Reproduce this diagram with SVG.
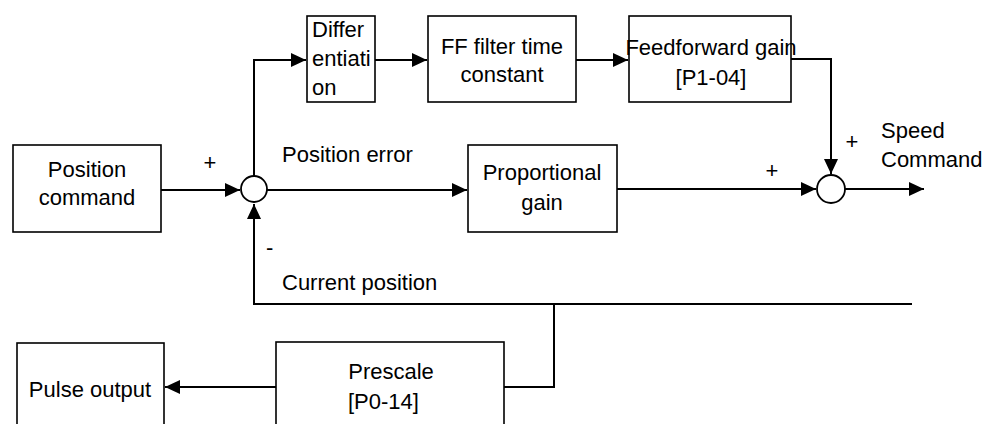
<svg xmlns="http://www.w3.org/2000/svg" width="986" height="424" viewBox="0 0 986 424">
<style>
.box{fill:#fff;stroke:#000;stroke-width:1.6}
.sum{fill:#fff;stroke:#000;stroke-width:1.8}
.ln{fill:none;stroke:#000;stroke-width:2}
text{font-family:"Liberation Sans",Arial,sans-serif;font-size:22px;fill:#000}
.c{text-anchor:middle}
</style>
<defs>
<marker id="ah" markerUnits="userSpaceOnUse" markerWidth="16" markerHeight="14" refX="15" refY="7" orient="auto">
<path d="M0,0 L15,7 L0,14 Z" fill="#000"/>
</marker>
</defs>
<rect width="986" height="424" fill="#fff"/>
<g id="connectors">
<path class="ln" d="M161,190 H240" marker-end="url(#ah)"/>
<path class="ln" d="M267,190 H467" marker-end="url(#ah)"/>
<path class="ln" d="M254,176 V60 H306" marker-end="url(#ah)"/>
<path class="ln" d="M375,60 H427" marker-end="url(#ah)"/>
<path class="ln" d="M576,60 H628" marker-end="url(#ah)"/>
<path class="ln" d="M791,59 H831 V174" marker-end="url(#ah)"/>
<path class="ln" d="M617,189 H816" marker-end="url(#ah)"/>
<path class="ln" d="M845,189 H924" marker-end="url(#ah)"/>
<path class="ln" d="M912,304 H254 V204" marker-end="url(#ah)"/>
<path class="ln" d="M554,304 V387 H504"/>
<path class="ln" d="M276,387 H165" marker-end="url(#ah)"/>
</g>
<g id="position-command">
<rect class="box" x="13" y="145" width="148" height="87"/>
<text class="c" x="87" y="177">Position</text>
<text class="c" x="87" y="205">command</text>
</g>
<g id="sum1">
<circle class="sum" cx="254" cy="189" r="13"/>
</g>
<g id="differentiation">
<rect class="box" x="307" y="16" width="68" height="86"/>
<text x="312" y="37">Differ</text>
<text x="312" y="66">entiati</text>
<text x="312" y="95">on</text>
</g>
<g id="ff-filter">
<rect class="box" x="428" y="16" width="148" height="86"/>
<text class="c" x="502" y="54">FF filter time</text>
<text class="c" x="502" y="82">constant</text>
</g>
<g id="feedforward-gain">
<rect class="box" x="629" y="16" width="162" height="86"/>
<text class="c" x="711" y="55">Feedforward gain</text>
<text class="c" x="711" y="85">[P1-04]</text>
</g>
<g id="proportional-gain">
<rect class="box" x="468" y="145" width="149" height="87"/>
<text class="c" x="542" y="180">Proportional</text>
<text class="c" x="542" y="210">gain</text>
</g>
<g id="sum2">
<circle class="sum" cx="831" cy="189" r="14"/>
</g>
<g id="pulse-output">
<rect class="box" x="17" y="343" width="147" height="100"/>
<text class="c" x="90" y="397">Pulse output</text>
</g>
<g id="prescale">
<rect class="box" x="276" y="342" width="228" height="100"/>
<text class="c" x="391" y="379">Prescale</text>
<text x="348" y="409">[P0-14]</text>
</g>
<g id="labels">
<text class="c" x="210" y="170">+</text>
<text x="282" y="162">Position error</text>
<text x="266" y="255">-</text>
<text x="282" y="290">Current position</text>
<text class="c" x="772" y="178">+</text>
<text class="c" x="852" y="149">+</text>
<text x="881" y="138">Speed</text>
<text x="881" y="167">Command</text>
</g>
</svg>
